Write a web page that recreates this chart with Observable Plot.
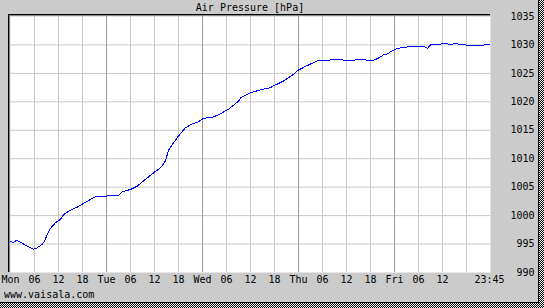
<!DOCTYPE html>
<html>
<head>
<meta charset="utf-8">
<script src="https://cdn.jsdelivr.net/npm/d3@7"></script>
<script src="https://cdn.jsdelivr.net/npm/@observablehq/plot@0.6"></script>
<style>
  html, body { margin: 0; padding: 0; background: #fff; }
  #wrap {
    position: relative; width: 544px; height: 308px; overflow: hidden;
    background: repeating-conic-gradient(#000 0 25%, #fff 0 50%) 0 0 / 2px 2px;
  }
  #panel {
    position: absolute; left: 0; top: 0; width: 538px; height: 302px;
    background: #cbcbcb; border-right: 1px solid #000; border-bottom: 1px solid #000;
  }
  #chart { position: absolute; left: 0; top: 0; }
  .lbl { position: absolute; font: 10px "DejaVu Sans Mono", monospace; color: #000; white-space: pre; }
  #title { left: 10px; width: 480px; top: 2px; text-align: center; }
  #caption { left: 4px; top: 289px; }
</style>
</head>
<body>
<div id="wrap">
  <div id="panel"></div>
  <div id="chart"></div>
  <div class="lbl" id="title">Air Pressure [hPa]</div>
  <div class="lbl" id="caption">www.vaisala.com</div>
</div>
<script>
// hours since Monday 00:00
const hours = [0,0.7,1.5,2.5,3.75,4.6,5.8,6.7,7.9,8.5,9.2,10,11.25,12.5,13.3,14.6,16.7,17.9,20,21.25,22.5,24.2,25,27,28,30,31.75,33,34.5,36,37.5,38.75,39.5,40.75,42,43.75,45.5,47,48.25,50.75,52.5,54.5,57,57.5,60,62.5,65,65.75,68.25,70.75,72,74.25,76.75,78.25,80.5,83.25,85,87,90.75,91.75,93.25,94.25,95.75,96.75,99.25,100.75,103.25,104.25,105,106.75,108.75,110,111.25,113.25,115.75,117.5,119.75];
const pressure = [995.4,995.3,995.65,995.3,994.8,994.5,994.1,994.35,994.95,995.5,996.7,997.75,998.75,999.35,1000.2,1000.8,1001.5,1002.0,1002.85,1003.3,1003.3,1003.45,1003.5,1003.55,1004.2,1004.6,1005.2,1005.95,1006.8,1007.65,1008.4,1009.6,1011.5,1012.8,1014.0,1015.45,1016.15,1016.5,1017.1,1017.35,1017.9,1018.7,1020.1,1020.7,1021.6,1022.1,1022.5,1022.8,1023.65,1024.85,1025.6,1026.4,1027.2,1027.2,1027.4,1027.35,1027.3,1027.4,1027.3,1027.6,1028.25,1028.45,1029.1,1029.4,1029.65,1029.8,1029.75,1029.4,1030.0,1030.1,1030.25,1030.05,1030.25,1030.0,1029.95,1029.95,1030.05];

const xTicks = [0,6,12,18,24,30,36,42,48,54,60,66,72,78,84,90,96,102,108,119.75];
const xTickLabels = ["Mon","06","12","18","Tue","06","12","18","Wed","06","12","18","Thu","06","12","18","Fri","06","12","23:45"];
const minorGrid = [6,12,18,30,36,42,54,60,66,78,84,90,102,108,114];
const dayGrid = [24,48,72,96];
const yTicks = [990,995,1000,1005,1010,1015,1020,1025,1030,1035];
const yGrid = [995,1000,1005,1010,1015,1020,1025,1030];

const data = hours.map((h, i) => ({h, p: pressure[i]}));
const labelOf = new Map(xTicks.map((t, i) => [t, xTickLabels[i]]));

const chart = Plot.plot({
  width: 544,
  height: 308,
  marginLeft: 10,
  marginRight: 54,
  marginTop: 16,
  marginBottom: 36,
  style: {background: "transparent", fontFamily: "DejaVu Sans Mono, monospace", fontSize: "10px", color: "#000"},
  x: {domain: [0, 120]},
  y: {domain: [990, 1035]},
  marks: [
    Plot.frame({fill: "#fff", stroke: null}),
    Plot.ruleX(minorGrid, {stroke: "#c8c8c8"}),
    Plot.ruleY(yGrid, {stroke: "#c8c8c8"}),
    Plot.ruleX(dayGrid, {stroke: "#999"}),
    Plot.ruleY([1035], {stroke: "#000", dy: -2, insetLeft: -2}),
    Plot.ruleY([1035], {stroke: "#888", dy: -1, insetLeft: -1}),
    Plot.ruleX([0], {stroke: "#000", dx: -2, insetTop: -2}),
    Plot.ruleX([0], {stroke: "#888", dx: -1, insetTop: -1}),
    Plot.line(data, {x: "h", y: "p", stroke: "#0000ff", strokeWidth: 1, shapeRendering: "crispEdges"}),
    Plot.axisX({ticks: xTicks, tickFormat: d => labelOf.get(d), tickSize: 0, tickPadding: 3, label: null, fontSize: 10}),
    Plot.axisY({ticks: yTicks, anchor: "right", tickSize: 0, tickPadding: 3, textAnchor: "end", dx: 41, label: null, fontSize: 10, tickFormat: d => String(d)})
  ]
});
document.getElementById("chart").appendChild(chart);
</script>
</body>
</html>
